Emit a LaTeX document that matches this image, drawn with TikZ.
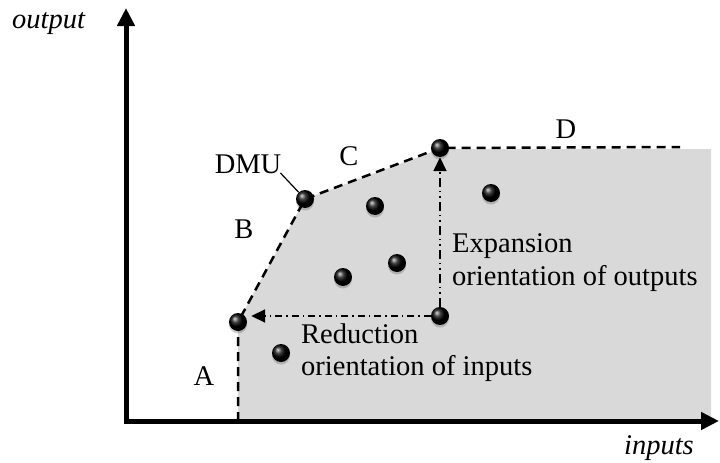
\documentclass[tikz,border=0pt]{standalone}
\usepackage{fontspec}
\setmainfont{Liberation Serif}
\usetikzlibrary{arrows.meta,shadows}
\definecolor{regiongray}{HTML}{D9D9D9}
\pgfdeclarelayer{bg}
\pgfsetlayers{bg,main}
\begin{document}
\begin{tikzpicture}[x=1pt,y=-1pt,
  lbl/.style={inner sep=0pt,font=\fontsize{28.5}{33}\selectfont},
  ball/.style={circle,inner sep=0pt,minimum size=18pt,shading=ball,ball color=black,
    drop shadow={shadow xshift=0pt,shadow yshift=-2.5pt,opacity=0.18,fill=black}},
  axis/.style={line width=5pt,-{Triangle[length=18pt,width=17pt]}},
  frontier/.style={line width=2.5pt,dash pattern=on 9pt off 6pt},
  orient/.style={line width=1.8pt,-{Triangle[length=14pt,width=13pt]}},
]
\useasboundingbox (0,0) rectangle (720,463);

% coordinates
\coordinate (origin) at (126,421);
\coordinate (yEnd) at (126,8);
\coordinate (xEnd) at (719,421);
\coordinate (aBot) at (238,421);
\coordinate (dEnd) at (680,147);

% DMUs
\node[ball] (pA) at (238,322) {};
\node[ball] (pB) at (305,199) {};
\node[ball] (pC) at (440,148) {};
\node[ball] (pR) at (440,316) {};
\node[ball] (p1) at (281,353) {};
\node[ball] (p2) at (343,277) {};
\node[ball] (p3) at (397,263) {};
\node[ball] (p4) at (375,206) {};
\node[ball] (p5) at (491,193) {};

\begin{pgfonlayer}{bg}
  % production possibility region
  \fill[regiongray] (aBot) -- (pA.center) -- (pB.center) -- (440,149) -- (711,149) -- (711,421) -- cycle;
  % frontier
  \draw[frontier] (aBot) -- (pA.center) -- (pB.center) -- (pC.center) -- (dEnd);
  % orientation arrows
  \draw[orient,dash pattern=on 7pt off 4pt on 1.5pt off 4pt]
    (pR.west) -- ([xshift=4pt]pA.east |- pR.west);
  \draw[orient,dash pattern=on 9pt off 4pt on 1.5pt off 4pt on 1.5pt off 4pt]
    (pR.north) -- (pC.south);
\end{pgfonlayer}

% axes
\draw[axis] ([yshift=-2.5pt]origin) -- (yEnd);
\draw[axis] ([xshift=-2.5pt]origin) -- (xEnd);

% labels
\node[lbl,anchor=base west] (outl) at (12,28) {\itshape output};
\node[lbl,anchor=base east] (inl) at (694,454) {\itshape inputs};
\node[lbl,anchor=base] (la) at (204,385) {A};
\node[lbl,anchor=base] (lb) at (244,238) {B};
\node[lbl,anchor=base] (lc) at (349,165) {C};
\node[lbl,anchor=base] (ld) at (566,138) {D};
\node[lbl,anchor=base] (dmu) at (248,173) {DMU};
\draw[line width=1.2pt] ([xshift=-1pt]dmu.base east) -- (pB);

\node[lbl,anchor=base west] (exp1) at (452,252) {Expansion};
\node[lbl,anchor=base west] (exp2) at (452,285) {orientation of outputs};
\node[lbl,anchor=base west] (red1) at (301,343) {Reduction};
\node[lbl,anchor=base west] (red2) at (301,375) {orientation of inputs};
\end{tikzpicture}
\end{document}
